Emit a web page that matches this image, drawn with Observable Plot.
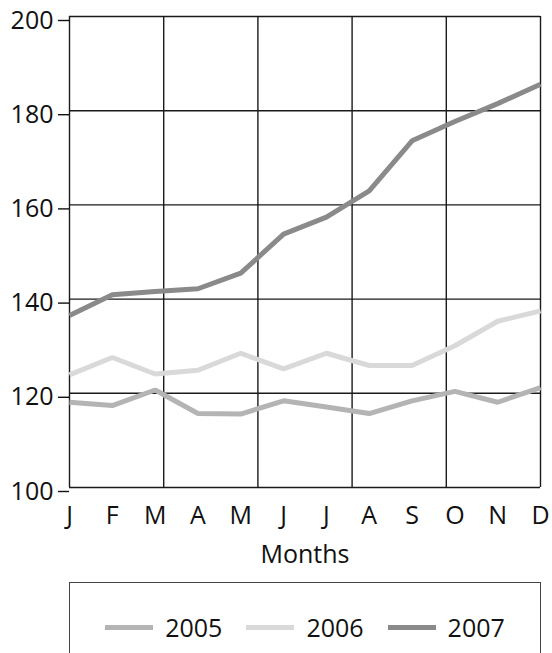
<!DOCTYPE html>
<html>
<head>
<meta charset="utf-8">
<script src="https://cdn.jsdelivr.net/npm/d3@7"></script>
<script src="https://cdn.jsdelivr.net/npm/@observablehq/plot@0.6"></script>
<style>
  body { margin: 0; background: #fff; font-family: "Open Sans", sans-serif; }
  #chart svg { display: block; }
  #legend {
    margin-left: 69px; margin-top: 7px; width: 470px; height: 100px;
    border: 1.5px solid #444; box-sizing: content-box;
  }
  #legend .row { display: flex; justify-content: center; align-items: center; margin-top: 29px; height: 30px; }
  #legend .item { display: flex; align-items: center; margin: 0 12px; }
  #legend .sw { width: 48px; height: 5px; margin-right: 12px; }
  #legend .lab { font-size: 25px; color: #111; }
</style>
</head>
<body>
<div id="chart"></div>
<div id="legend"><div class="row"></div></div>
<script>
const months = ["J","F","M","A","M","J","J","A","S","O","N","D"];
const years = ["2005","2006","2007"];
const v2005 = [118.1,117.4,120.7,115.7,115.6,118.4,117.1,115.7,118.4,120.4,118.1,121.2];
const v2006 = [123.9,127.6,124.1,124.9,128.5,125.2,128.5,125.9,125.9,130.1,135.3,137.5];
const v2007 = [136.5,140.9,141.6,142.2,145.5,153.8,157.4,163.0,173.6,177.7,181.5,185.6];
const yTicks = [100,120,140,160,180,200];
const xGrid = [0,2.2,4.4,6.6,8.8,11];
const colors = ["#b4b4b4","#d9d9d9","#8a8a8a"];

const series = [v2005, v2006, v2007];
const data = years.flatMap((y, k) => series[k].map((v, i) => ({year: y, month: i, value: v})));

const chart = Plot.plot({
  width: 552,
  height: 575,
  marginTop: 16,
  marginBottom: 88,
  marginLeft: 69,
  marginRight: 12,
  style: {fontFamily: "Open Sans", fontSize: "25px", color: "#111", background: "#fff"},
  x: {domain: [0, 11]},
  y: {domain: [100, 200]},
  color: {domain: years, range: colors},
  marks: [
    Plot.ruleY(yTicks, {stroke: "#1a1a1a", strokeWidth: 1.4}),
    Plot.ruleX(xGrid, {stroke: "#1a1a1a", strokeWidth: 1.4}),
    Plot.axisY(yTicks, {tickSize: 11, tickPadding: 5, dy: 4, strokeWidth: 1.4, label: null}),
    Plot.axisX(d3.range(12), {tickSize: 0, tickPadding: 19, tickFormat: i => months[i], label: null}),
    Plot.text(["Months"], {frameAnchor: "bottom", dy: 75, lineAnchor: "bottom", text: d => d, fontSize: 25, fill: "#111"}),
    Plot.lineY(data, {x: "month", y: "value", stroke: "year", strokeWidth: 5, strokeLinecap: "butt", strokeLinejoin: "miter"})
  ]
});
document.getElementById("chart").appendChild(chart);

const row = d3.select("#legend .row");
years.forEach((y, k) => {
  const it = row.append("div").attr("class", "item");
  it.append("div").attr("class", "sw").style("background", colors[k]);
  it.append("span").attr("class", "lab").text(y);
});
</script>
</body>
</html>
